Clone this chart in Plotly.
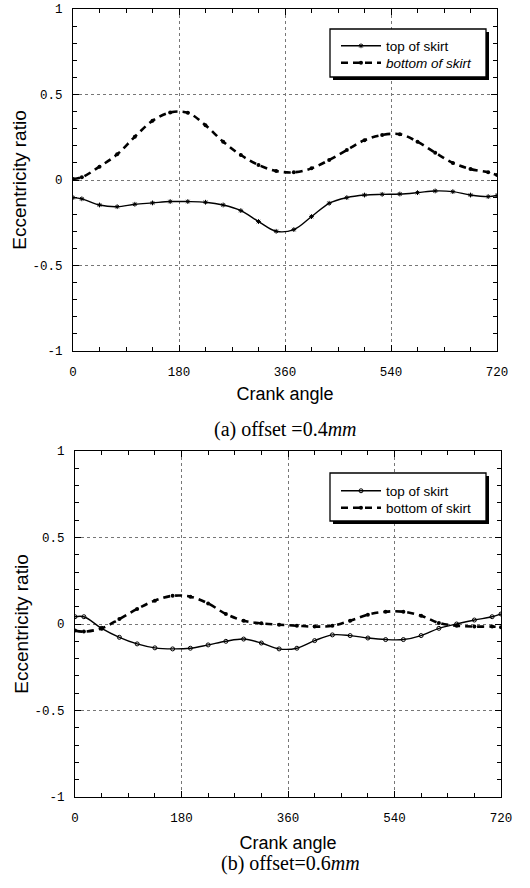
import plotly.graph_objects as go

# ---------------- data ----------------
crank = [0] + [15 + 30 * k for k in range(24)] + [720]

top_a = [-0.103, -0.110, -0.146, -0.156, -0.142, -0.134, -0.126, -0.126, -0.130,
         -0.146, -0.179, -0.243, -0.300, -0.290, -0.214, -0.136, -0.103, -0.088,
         -0.084, -0.082, -0.074, -0.064, -0.068, -0.088, -0.097, -0.091]
bottom_a = [0.006, 0.016, 0.078, 0.150, 0.253, 0.346, 0.395, 0.393, 0.320, 0.224,
            0.146, 0.088, 0.053, 0.045, 0.068, 0.117, 0.175, 0.233, 0.263, 0.268,
            0.224, 0.160, 0.100, 0.064, 0.045, 0.029]
top_b = [0.042, 0.042, -0.025, -0.077, -0.115, -0.138, -0.144, -0.140, -0.121,
         -0.100, -0.087, -0.110, -0.144, -0.140, -0.096, -0.063, -0.067, -0.081,
         -0.090, -0.090, -0.067, -0.025, 0.000, 0.023, 0.042, 0.058]
bottom_b = [-0.038, -0.044, -0.025, 0.029, 0.087, 0.135, 0.163, 0.158, 0.119, 0.058,
            0.019, 0.004, -0.004, -0.010, -0.015, -0.010, 0.019, 0.054, 0.071, 0.071,
            0.048, 0.006, -0.010, -0.015, -0.015, -0.019]

x_ticks = [0, 180, 360, 540, 720]
y_ticks = [1, 0.5, 0, -0.5, -1]
y_ticktext = ["1", "0.5", "0", "-0.5", "-1"]

names_a = ["top of skirt", "<i>bottom of skirt</i>"]
names_b = ["top of skirt", "bottom of skirt"]
captions = ["(a) offset =0.4<i>mm</i>", "(b) offset=0.6<i>mm</i>"]

# ---------------- geometry (page pixels -> paper) ----------------
FW, FH = 530, 888


def px(x):
    return x / FW


def py(y):
    return 1 - y / FH


# ---------------- figure ----------------
fig = go.Figure()

solid = dict(color="black", width=1.4, shape="spline")
dashed = dict(color="black", width=2.6, dash="7px,5px", shape="spline")

fig.add_trace(go.Scatter(x=crank, y=top_a, name=names_a[0], mode="lines+markers", line=solid,
                         marker=dict(symbol="asterisk-open", size=4, color="black",
                                     line=dict(width=1, color="black")),
                         xaxis="x", yaxis="y", legend="legend"))
fig.add_trace(go.Scatter(x=crank, y=bottom_a, name=names_a[1], mode="lines+markers", line=dashed,
                         marker=dict(symbol="circle", size=4, color="black"),
                         xaxis="x", yaxis="y", legend="legend2"))
fig.add_trace(go.Scatter(x=crank, y=top_b, name=names_b[0], mode="lines+markers", line=solid,
                         marker=dict(symbol="circle-open", size=4, color="black",
                                     line=dict(width=1, color="black")),
                         xaxis="x2", yaxis="y2", legend="legend3"))
fig.add_trace(go.Scatter(x=crank, y=bottom_b, name=names_b[1], mode="lines+markers", line=dashed,
                         marker=dict(symbol="circle", size=4, color="black"),
                         xaxis="x2", yaxis="y2", legend="legend4"))

tick_font = dict(family="Liberation Mono, DejaVu Sans Mono, monospace", size=12.5, color="black")
xtitle_font = dict(family="Liberation Sans, Arial, sans-serif", size=18, color="black")
ytitle_font = dict(family="Liberation Sans, Arial, sans-serif", size=19, color="black")


def xax(domain, anchor, standoff):
    return dict(domain=domain, anchor=anchor, range=[0, 720], tickvals=x_ticks,
                showline=True, mirror="allticks", linecolor="black", linewidth=1.2,
                ticks="inside", ticklen=6, tickcolor="black", ticklabelstandoff=9,
                minor=dict(dtick=45, tick0=0, ticks="inside", ticklen=4,
                           tickcolor="black", showgrid=False),
                showgrid=True, gridcolor="#777", griddash="dot", gridwidth=1,
                zeroline=False, tickfont=tick_font, automargin=False,
                ticklabeloverflow="allow",
                title=dict(text="Crank angle", font=xtitle_font, standoff=standoff))


def yax(domain, anchor):
    return dict(domain=domain, anchor=anchor, range=[-1, 1], tickvals=y_ticks,
                ticktext=y_ticktext,
                showline=True, mirror="allticks", linecolor="black", linewidth=1.2,
                ticks="inside", ticklen=6, tickcolor="black", ticklabelstandoff=7,
                minor=dict(dtick=0.1, tick0=0, ticks="inside", ticklen=4,
                           tickcolor="black", showgrid=False),
                showgrid=True, gridcolor="#777", griddash="dot", gridwidth=1,
                zeroline=False, tickfont=tick_font, automargin=False,
                ticklabeloverflow="allow",
                title=dict(text="Eccentricity ratio", font=ytitle_font, standoff=0))


leg_font = dict(family="Liberation Sans, Arial, sans-serif", size=13.5, color="black")


def leg(x, y):
    return dict(x=px(x), y=py(y), xanchor="left", yanchor="middle",
                bgcolor="rgba(0,0,0,0)", borderwidth=0, font=leg_font,
                tracegroupgap=0, itemwidth=40)


fig.update_layout(
    width=FW, height=FH,
    margin=dict(l=0, r=0, t=0, b=0),
    paper_bgcolor="white", plot_bgcolor="white",
    xaxis=xax([px(73), px(497)], "y", 8), yaxis=yax([py(351), py(9)], "x"),
    xaxis2=xax([px(75), px(501)], "y2", 11), yaxis2=yax([py(797), py(451)], "x2"),
    legend=leg(336, 46), legend2=leg(336, 63),
    legend3=leg(336, 491), legend4=leg(336, 508),
    showlegend=True,
)

# legend frames with drop shadow
for (x0, y0, x1, y1) in [(330, 29, 486, 77), (330, 473, 486, 521)]:
    fig.add_shape(type="rect", xref="paper", yref="paper",
                  x0=px(x0 + 3), x1=px(x1 + 3), y0=py(y1 + 3), y1=py(y0 + 3),
                  fillcolor="black", line=dict(width=0), layer="above")
    fig.add_shape(type="rect", xref="paper", yref="paper",
                  x0=px(x0), x1=px(x1), y0=py(y1), y1=py(y0),
                  fillcolor="white", line=dict(width=1.3, color="black"), layer="above")

cap_font = dict(family="Liberation Serif, Times New Roman, serif", size=20, color="black")
fig.add_annotation(text=captions[0], x=px(285), y=py(429), xref="paper", yref="paper",
                   showarrow=False, font=cap_font, xanchor="center", yanchor="middle")
fig.add_annotation(text=captions[1], x=px(290), y=py(863), xref="paper", yref="paper",
                   showarrow=False, font=cap_font, xanchor="center", yanchor="middle")

fig.write_html("out.html", config={"displayModeBar": False},
               post_script="document.body.style.margin='0px';")
